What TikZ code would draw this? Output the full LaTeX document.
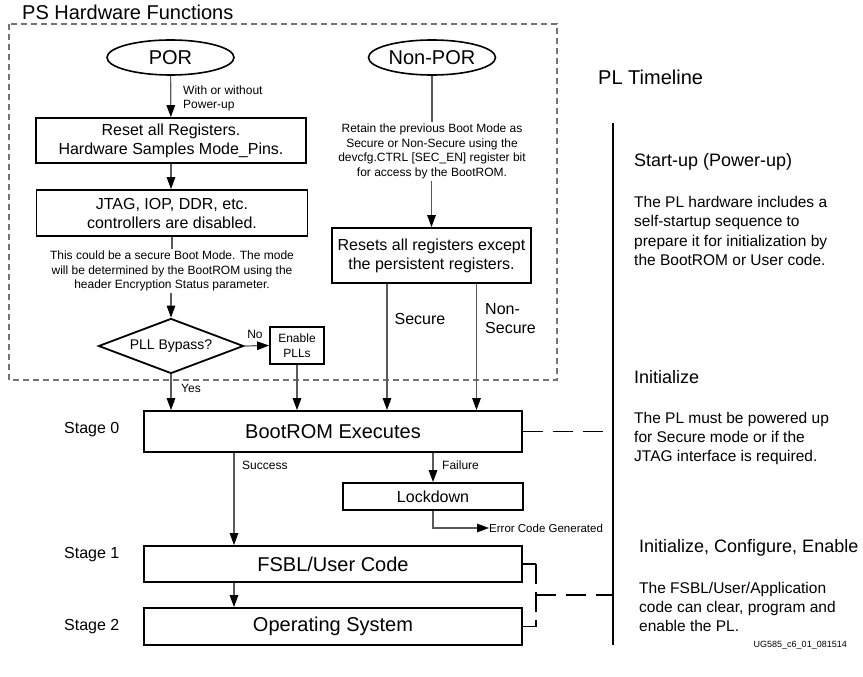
\documentclass[tikz,border=0pt]{standalone}
\usepackage{fontspec}
\setmainfont{Liberation Sans}
\usepackage{tikz}
\usetikzlibrary{shapes.geometric, arrows.meta, positioning}
\definecolor{linecolor}{RGB}{90, 90, 90}
\definecolor{framecolor}{RGB}{115, 115, 115}
\newcommand{\fsz}[2]{\fontsize{#1}{#2}\selectfont}

\begin{document}
\begin{tikzpicture}[
    x=1pt, y=-1pt,
    box/.style={draw, line width=1.8pt, inner sep=0pt, align=center, font=\fsz{16}{19}},
    stagebox/.style={draw, line width=1.8pt, inner sep=0pt, minimum width=378, font=\fsz{20}{24}},
    start/.style={draw, ellipse, line width=1.6pt, inner sep=0pt, minimum width=127, minimum height=35, font=\fsz{20}{24}},
    decision/.style={draw, diamond, line width=1.8pt, inner sep=0pt, aspect=2.64, minimum width=145, minimum height=55, font=\fsz{14}{17}},
    note/.style={inner sep=2pt, align=center, font=\fsz{12}{14.5}},
    lbl/.style={inner sep=0pt, font=\fsz{12}{14.5}},
    para/.style={inner sep=0pt, anchor=west, align=left, font=\fsz{15.5}{19.3}},
    head/.style={inner sep=0pt, anchor=west, font=\fsz{18}{22}},
    arr/.style={draw=linecolor, line width=1.2pt, -{Triangle[length=12pt, width=8.5pt, color=black]}},
    link/.style={draw=linecolor, line width=1.2pt},
    tldash/.style={line width=1.8pt, dash pattern=on 20pt off 10pt}
]
    \useasboundingbox (0,0) rectangle (863,677);

    % PS hardware frame
    \draw[framecolor, line width=1.1pt, dash pattern=on 6pt off 4pt] (9,24) rectangle (557,380);
    \node[inner sep=0pt, anchor=base west, font=\fsz{20}{24}] (pstitle) at (22,19.5) {PS Hardware Functions};

    % POR branch
    \node[start] (por) at (170.5,57.5) {POR};
    \node[box, minimum width=270, minimum height=45] (reset) at (171,140.5)
        {Reset all Registers.\\Hardware Samples Mode\_Pins.};
    \node[box, minimum width=271, minimum height=46] (jtag) at (172,213)
        {JTAG, IOP, DDR, etc.\\controllers are disabled.};
    \node[note] (securenote) at (172,271)
        {This could be a secure Boot Mode. The mode\\will be determined by the BootROM using the\\header Encryption Status parameter.};
    \node[decision] (pll) at (171,346) {PLL Bypass?};
    \node[box, minimum width=54, minimum height=37, font=\fsz{12}{15}] (enable) at (297,345.5) {Enable\\PLLs};

    % Non-POR branch
    \node[start] (nonpor) at (432,57.5) {Non-POR};
    \node[note] (retain) at (432,151.5)
        {Retain the previous Boot Mode as\\Secure or Non-Secure using the\\devcfg.CTRL [SEC\_EN] register bit\\for access by the BootROM.};
    \node[box, minimum width=199, minimum height=55] (resets) at (431.5,255.5)
        {Resets all registers except\\the persistent registers.};

    % Boot stages
    \node[stagebox, minimum height=41] (bootrom) at (333,431.5) {BootROM Executes};
    \node[box, minimum width=180, minimum height=27] (lockdown) at (433,496.5) {Lockdown};
    \node[stagebox, minimum height=36] (fsbl) at (333,564) {FSBL/User Code};
    \node[stagebox, minimum height=37] (os) at (333,626.5) {Operating System};

    \node[inner sep=0pt, anchor=west, font=\fsz{16}{19}] (stage0) at (64,430) {Stage 0};
    \node[inner sep=0pt, anchor=west, font=\fsz{16}{19}] (stage1) at (64,555) {Stage 1};
    \node[inner sep=0pt, anchor=west, font=\fsz{16}{19}] (stage2) at (64,627) {Stage 2};

    % Column positions
    \coordinate (secx) at (387,0);
    \coordinate (nsecx) at (476.5,0);
    \coordinate (sucx) at (234,0);

    % Connectors
    \draw[arr] (por) -- (reset);
    \node[lbl, anchor=west, align=left] (powerup) at (183,98.5) {With or without\\Power-up};
    \draw[arr] (reset) -- (reset.south |- jtag.north);
    \draw[link] (jtag.south -| securenote.north) -- (securenote.north);
    \draw[arr] (securenote.south -| pll.north) -- (pll.north);
    \draw[arr] (pll.east) -- (enable.west);
    \node[lbl] (nolbl) at (255,334) {No};
    \draw[arr] (pll.south) -- (bootrom.north -| pll.south);
    \node[lbl] (yeslbl) at (191,388) {Yes};
    \draw[arr] (enable.south) -- (bootrom.north -| enable.south);

    \draw[link] (nonpor) -- (retain);
    \draw[arr] (retain.south -| resets.north) -- (resets.north);
    \draw[arr] (resets.south -| secx) -- (bootrom.north -| secx);
    \node[inner sep=0pt, font=\fsz{16}{19}] (seclbl) at (420,319) {Secure};
    \draw[arr] (resets.south -| nsecx) -- (bootrom.north -| nsecx);
    \node[inner sep=0pt, anchor=west, align=left, font=\fsz{16}{19}] (nseclbl) at (485,318.5) {Non-\\Secure};

    \draw[arr] (bootrom.south -| sucx) -- (fsbl.north -| sucx);
    \node[lbl, anchor=west] (suclbl) at (242,465) {Success};
    \draw[arr] (bootrom.south -| lockdown.north) -- (lockdown.north);
    \node[lbl, anchor=west] (faillbl) at (442,465) {Failure};
    \node[inner sep=0pt, anchor=west, font=\fsz{11.5}{14}] (errcode) at (489,528) {Error Code Generated};
    \draw[arr] (lockdown.south) |- (errcode.west);
    \draw[arr] (fsbl.south -| sucx) -- (os.north -| sucx);

    % PL timeline
    \node[inner sep=0pt, anchor=west, font=\fsz{20}{24}] (pltitle) at (598,77) {PL Timeline};
    \coordinate (tltop) at (613,123);
    \coordinate (tlbot) at (613,645);
    \draw[line width=2.4pt] (tltop) -- (tlbot);

    \node[head] (startup) at (634,162) {Start-up (Power-up)};
    \node[para] (startuptext) at (634,231)
        {The PL hardware includes a\\self-startup sequence to\\prepare it for initialization by\\the BootROM or User code.};
    \node[head] (init) at (634,377) {Initialize};
    \node[para] (inittext) at (634,438.5)
        {The PL must be powered up\\for Secure mode or if the\\JTAG interface is required.};
    \node[head] (ice) at (639,548) {Initialize, Configure, Enable};
    \node[para] (icetext) at (639,607)
        {The FSBL/User/Application\\code can clear, program and\\enable the PL.};
    \node[inner sep=0pt, anchor=east, font=\fsz{9}{11}] (figid) at (847,645) {UG585\_c6\_01\_081514};

    % Timeline ties
    \draw[tldash] (bootrom.east) -- (bootrom.east -| tltop);
    \coordinate (brk) at (536,0);
    \coordinate (brkmid) at (536,595);
    \draw[line width=1.8pt] (fsbl.east) -- (fsbl.east -| brk);
    \draw[line width=1.8pt, dash pattern=on 20pt off 8pt] (fsbl.east -| brk) -- (os.east -| brk);
    \draw[line width=1.8pt] (os.east -| brk) -- (os.east);
    \draw[tldash] (brkmid) -- (brkmid -| tltop);
\end{tikzpicture}
\end{document}
